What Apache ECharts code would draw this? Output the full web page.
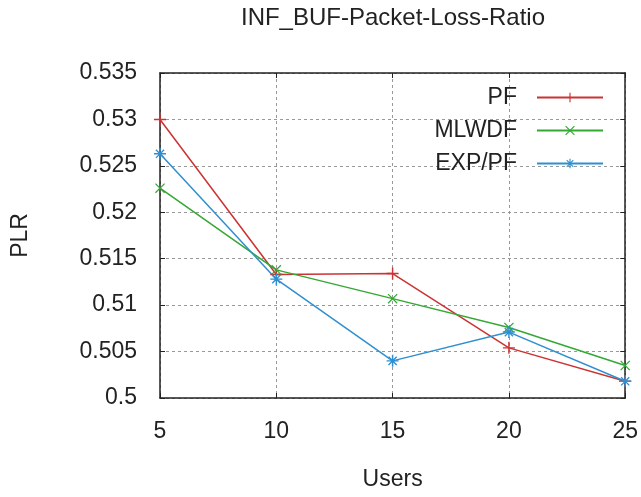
<!DOCTYPE html>
<html>
<head>
<meta charset="utf-8">
<script src="https://cdn.jsdelivr.net/npm/echarts@6/dist/echarts.min.js"></script>
<style>
  html, body { margin: 0; padding: 0; background: #fff; }
  #chart { width: 641px; height: 497px; }
</style>
</head>
<body>
<div id="chart"></div>
<script>
// data
const users = [5, 10, 15, 20, 25];
const pf = [0.5300, 0.5133, 0.5134, 0.5054, 0.5018];
const mlwdf = [0.5226, 0.5138, 0.5107, 0.5076, 0.5035];
const expPf = [0.5263, 0.5128, 0.5040, 0.5071, 0.5018];

const font = "'Liberation Sans', Arial, sans-serif";

// marker shapes (thin filled paths, box 0..10)
const plusPath = "path://M4.4,0h1.2v10h-1.2z M0,4.4h10v1.2h-10z";
const crossPath = "path://M0,0.85L0.85,0L10,9.15L9.15,10Z M9.15,0L10,0.85L0.85,10L0,9.15Z";
const starPath = "path://M4.4,0h1.2v10h-1.2z M0,4.4h10v1.2h-10z M1.2,2L2,1.2L8.8,8L8,8.8Z M8,1.2L8.8,2L2,8.8L1.2,8Z";

function pairs(ys) {
  return users.map((u, i) => [u, ys[i]]);
}

function line(name, ys, color, symbol, size) {
  return {
    name: name,
    type: "line",
    data: pairs(ys),
    symbol: symbol,
    symbolSize: size,
    showSymbol: true,
    lineStyle: { color: color, width: 1.5 },
    itemStyle: { color: color },
    emphasis: { disabled: true },
  };
}

let chart = echarts.init(document.getElementById("chart"));
chart.setOption({
  animation: false,
  backgroundColor: "#fff",
  title: {
    text: "INF_BUF-Packet-Loss-Ratio",
    left: 393,
    textAlign: "center",
    top: 6,
    padding: 0,
    textStyle: { fontFamily: font, fontSize: 24, fontWeight: "normal", color: "#222" },
  },
  legend: {
    orient: "vertical",
    align: "right",
    right: 32,
    top: 81,
    itemGap: 10,
    itemWidth: 66,
    itemHeight: 12,
    textStyle: { fontFamily: font, fontSize: 23, color: "#222", padding: [0, 15, 0, 0] },
    data: ["PF", "MLWDF", "EXP/PF"],
  },
  grid: { left: 160, right: 10, top: 73, bottom: 99 },
  xAxis: [
    {
      type: "value",
      min: 5,
      max: 25,
      interval: 5,
      name: "Users",
      nameLocation: "middle",
      nameGap: 70,
      nameTextStyle: { fontFamily: font, fontSize: 23, color: "#222" },
      axisLine: { lineStyle: { color: "#222", width: 1.5 } },
      axisTick: { inside: true, length: 5, lineStyle: { color: "#222" } },
      axisLabel: { margin: 22, fontFamily: font, fontSize: 23, color: "#222" },
      splitLine: { show: true, lineStyle: { color: "#999", type: [3, 3], width: 1 } },
    },
    {
      type: "value",
      position: "top",
      min: 5,
      max: 25,
      interval: 5,
      axisLine: { show: true, lineStyle: { color: "#222", width: 1.5 } },
      axisTick: { inside: true, length: 5, lineStyle: { color: "#222" } },
      axisLabel: { show: false },
      splitLine: { show: false },
    },
  ],
  yAxis: [
    {
      type: "value",
      min: 0.5,
      max: 0.535,
      interval: 0.005,
      name: "PLR",
      nameLocation: "middle",
      nameRotate: 90,
      nameGap: 128,
      nameTextStyle: { fontFamily: font, fontSize: 23, color: "#222" },
      axisLine: { show: true, lineStyle: { color: "#222", width: 1.5 } },
      axisTick: { show: true, inside: true, length: 5, lineStyle: { color: "#222" } },
      axisLabel: { margin: 23, fontFamily: font, fontSize: 23, color: "#222" },
      splitLine: { show: true, lineStyle: { color: "#999", type: [3, 3], width: 1 } },
    },
    {
      type: "value",
      position: "right",
      min: 0.5,
      max: 0.535,
      interval: 0.005,
      axisLine: { show: true, lineStyle: { color: "#222", width: 1.5 } },
      axisTick: { show: true, inside: true, length: 5, lineStyle: { color: "#222" } },
      axisLabel: { show: false },
      splitLine: { show: false },
    },
  ],
  series: [
    line("PF", pf, "#cc3333", plusPath, 12),
    line("MLWDF", mlwdf, "#33a833", crossPath, 10),
    line("EXP/PF", expPf, "#2f8fd0", starPath, 12),
  ],
});
</script>
</body>
</html>
